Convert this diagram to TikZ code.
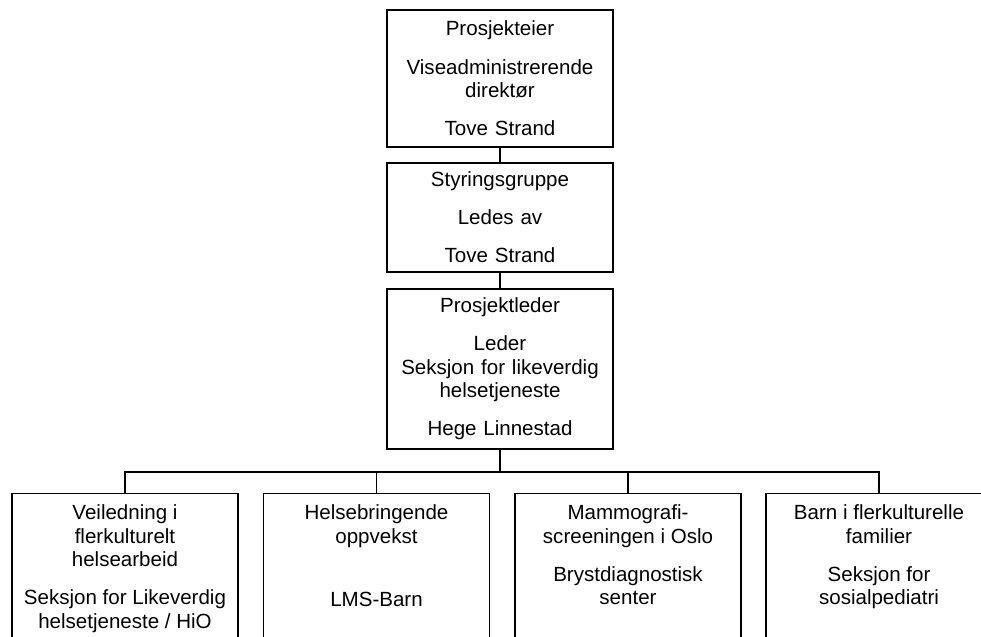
\documentclass[tikz,border=0pt]{standalone}
\usepackage{fontspec}
\setmainfont{Liberation Sans}
\begin{document}
\begin{tikzpicture}[x=0.75pt,y=-0.75pt,
  skrift/.style={font=\fontsize{15.4pt}{17.6pt}\selectfont},
  boks/.style={draw,line width=0.9pt,skrift,minimum width=169.5pt,text width=160pt,align=center,inner sep=0pt},
  delboks/.style={draw,line width=0.9pt,minimum width=169.5pt,minimum height=155pt,inner sep=0pt},
  deltekst/.style={skrift,anchor=north,align=center,inner sep=0pt,yshift=-9pt},
  linje/.style={line width=0.9pt}]
\clip (0,0) rectangle (981,636);
% ledelse
\node[boks,minimum height=102.75pt] (eier) at (500,78.5) {Prosjekteier\\[11pt]Viseadministrerende\\direktør\\[11pt]Tove Strand};
\node[boks,minimum height=81.75pt] (styr) at (500,217.5) {Styringsgruppe\\[11pt]Ledes av\\[11pt]Tove Strand};
\node[boks,minimum height=120pt] (leder) at (500,369) {Prosjektleder\\[11pt]Leder\\Seksjon for likeverdig\\helsetjeneste\\[11pt]Hege Linnestad};
% delprosjekter
\node[delboks] (veil) at (125,596.5) {};
\node[delboks] (oppv) at (376.5,596.5) {};
\node[delboks] (mammo) at (628,596.5) {};
\node[delboks] (barn) at (879,596.5) {};
\node[deltekst] (veiltekst) at (veil.north) {Veiledning i\\flerkulturelt\\helsearbeid\\[11pt]Seksjon for Likeverdig\\helsetjeneste / HiO};
\node[deltekst] (oppvtekst) at (oppv.north) {Helsebringende\\oppvekst\\[30pt]LMS-Barn};
\node[deltekst] (mammotekst) at (mammo.north) {Mammografi-\\screeningen i Oslo\\[11pt]Brystdiagnostisk\\senter};
\node[deltekst] (barntekst) at (barn.north) {Barn i flerkulturelle\\familier\\[11pt]Seksjon for\\sosialpediatri};
% linjer
\coordinate (buss) at (500,472);
\draw[linje] (eier) -- (styr);
\draw[linje] (styr) -- (leder);
\draw[linje] (leder) -- (buss);
\draw[linje] (veil.north) |- (buss) -| (barn.north);
\draw[linje] (oppv.north) -- (oppv.north |- buss);
\draw[linje] (mammo.north) -- (mammo.north |- buss);
\end{tikzpicture}
\end{document}
